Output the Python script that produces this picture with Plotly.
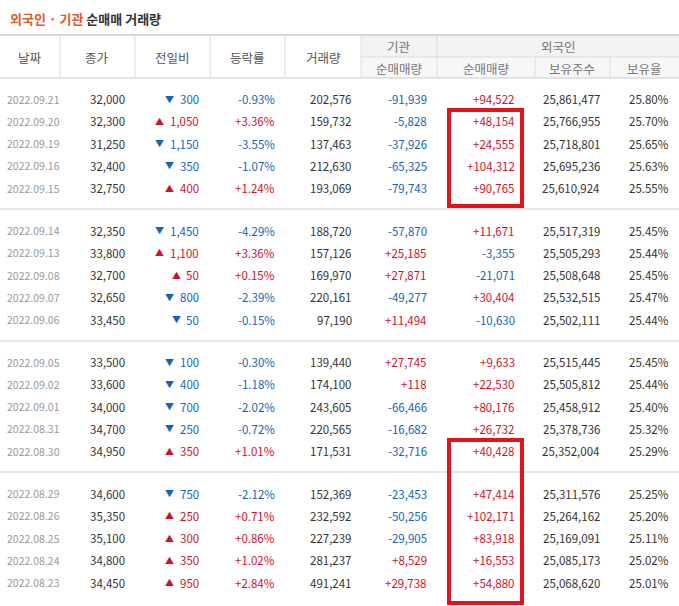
import plotly.graph_objects as go

dates = ["2022.09.21","2022.09.20","2022.09.19","2022.09.16","2022.09.15",
         "2022.09.14","2022.09.13","2022.09.08","2022.09.07","2022.09.06",
         "2022.09.05","2022.09.02","2022.09.01","2022.08.31","2022.08.30",
         "2022.08.29","2022.08.26","2022.08.25","2022.08.24","2022.08.23"]
close = [32000,32300,31250,32400,32750,32350,33800,32700,32650,33450,
         33500,33600,34000,34700,34950,34600,35350,35100,34800,34450]
change = [-300,1050,-1150,-350,400,-1450,1100,50,-800,-50,
          -100,-400,-700,-250,350,-750,250,300,350,950]
rate = [-0.93,3.36,-3.55,-1.07,1.24,-4.29,3.36,0.15,-2.39,-0.15,
        -0.30,-1.18,-2.02,-0.72,1.01,-2.12,0.71,0.86,1.02,2.84]
volume = [202576,159732,137463,212630,193069,188720,157126,169970,220161,97190,
          139440,174100,243605,220565,171531,152369,232592,227239,281237,491241]
inst = [-91939,-5828,-37926,-65325,-79743,-57870,25185,27871,-49277,11494,
        27745,118,-66466,-16682,-32716,-23453,-50256,-29905,8529,29738]
foreign = [94522,48154,24555,104312,90765,11671,-3355,-21071,30404,-10630,
           9633,22530,80176,26732,40428,47414,102171,83918,16553,54880]
holdings = [25861477,25766955,25718801,25695236,25610924,25517319,25505293,25508648,25532515,25502111,
            25515445,25505812,25458912,25378736,25352004,25311576,25264162,25169091,25085173,25068620]
ratio = [25.80,25.70,25.65,25.63,25.55,25.45,25.44,25.45,25.47,25.44,
         25.45,25.44,25.40,25.32,25.29,25.25,25.20,25.11,25.02,25.01]
headers = ["날짜","종가","전일비","등락률","거래량"]
sub_headers = ["순매매량","순매매량","보유주수","보유율"]

RED = "#d0112b"; BLUE = "#1763b6"; DARK = "#333333"; LINE = "#dddddd"
FONT = "Noto Sans CJK KR"
row_y = []
for g in range(4):
    base = 99 + g * 131.5
    for i in range(5):
        row_y.append(base + i * 22.3)

fig = go.Figure()
fig.add_trace(go.Scatter(x=[0, 679], y=[0, 606], mode="markers", marker=dict(opacity=0), hoverinfo="skip"))
shapes = []
ann = []
def A(x, y, t, color=DARK, anchor="right", size=11.5):
    ann.append(dict(x=x, y=y, text=t, showarrow=False, xanchor=anchor, yanchor="middle",
                    font=dict(family=FONT, size=size, color=color)))

shapes.append(dict(type="rect", x0=361, x1=679, y0=35, y1=57, fillcolor="#f2f2f2", line_width=0, layer="below"))
shapes.append(dict(type="rect", x0=361, x1=679, y0=57, y1=78, fillcolor="#f7f7f7", line_width=0, layer="below"))
shapes.append(dict(type="line", x0=0, x1=679, y0=35, y1=35, line=dict(color="#cccccc", width=1.5)))
shapes.append(dict(type="line", x0=0, x1=679, y0=78, y1=78, line=dict(color="#cccccc", width=1)))
shapes.append(dict(type="line", x0=361, x1=679, y0=57, y1=57, line=dict(color=LINE, width=1)))
for x in [60, 135, 210, 285, 361]:
    shapes.append(dict(type="line", x0=x, x1=x, y0=35, y1=78, line=dict(color=LINE, width=1)))
for x in [437, 535, 610]:
    shapes.append(dict(type="line", x0=x, x1=x, y0=57 if x != 437 else 35, y1=78, line=dict(color=LINE, width=1)))
for y in [209, 341, 472]:
    shapes.append(dict(type="line", x0=0, x1=679, y0=y, y1=y, line=dict(color="#cccccc", width=1)))

shapes.append(dict(type="rect", x0=449, x1=522, y0=110, y1=206, line=dict(color="#e3131b", width=4)))
shapes.append(dict(type="rect", x0=449, x1=522, y0=440, y1=603, line=dict(color="#e3131b", width=4)))

ann.append(dict(x=8, y=18, xanchor="left", yanchor="middle", showarrow=False,
                text="<b><span style='color:#e05a2b'>외국인 · 기관</span> 순매매 거래량</b>",
                font=dict(family=FONT, size=13, color=DARK)))
for h, cx in zip(headers, [30, 97, 172, 247, 323]):
    A(cx, 57, h, "#555555", "center", 12.5)
A(399, 46, "기관", "#777777", "center", 12.5)
A(558, 46, "외국인", "#777777", "center", 12.5)
for h, cx in zip(sub_headers, [399, 486, 572, 644]):
    A(cx, 68, h, "#777777", "center", 12.5)

def fmt(v):
    return f"{v:+,}" if v > 0 else f"{v:,}"
def col(v):
    return RED if v > 0 else BLUE
for i, y in enumerate(row_y):
    A(5, y, dates[i], "#999999", "left", 10.5)
    A(127, y, f"{close[i]:,}")
    s = f"{abs(change[i]):,}"
    A(201, y, s, col(change[i]))
    sym = "▲" if change[i] > 0 else "▼"
    w = 7 * sum(1 for c in s if c.isdigit()) + 3 * s.count(",")
    A(201 - w - 4, y, sym, col(change[i]), "right", 9)
    A(277, y, f"{rate[i]:+.2f}%", col(rate[i]))
    A(354, y, f"{volume[i]:,}")
    A(429, y, fmt(inst[i]), col(inst[i]))
    A(517, y, fmt(foreign[i]), col(foreign[i]))
    A(602, y, f"{holdings[i]:,}")
    A(671, y, f"{ratio[i]:.2f}%")

fig.update_layout(width=679, height=606, margin=dict(l=0, r=0, t=0, b=0),
                  plot_bgcolor="white", paper_bgcolor="white", showlegend=False,
                  shapes=shapes, annotations=ann,
                  xaxis=dict(range=[0, 679], visible=False, fixedrange=True),
                  yaxis=dict(range=[606, 0], visible=False, fixedrange=True))
fig.write_html("out.html", config={"displayModeBar": False},
               post_script="document.body.style.margin='0';document.body.style.overflow='hidden';")
